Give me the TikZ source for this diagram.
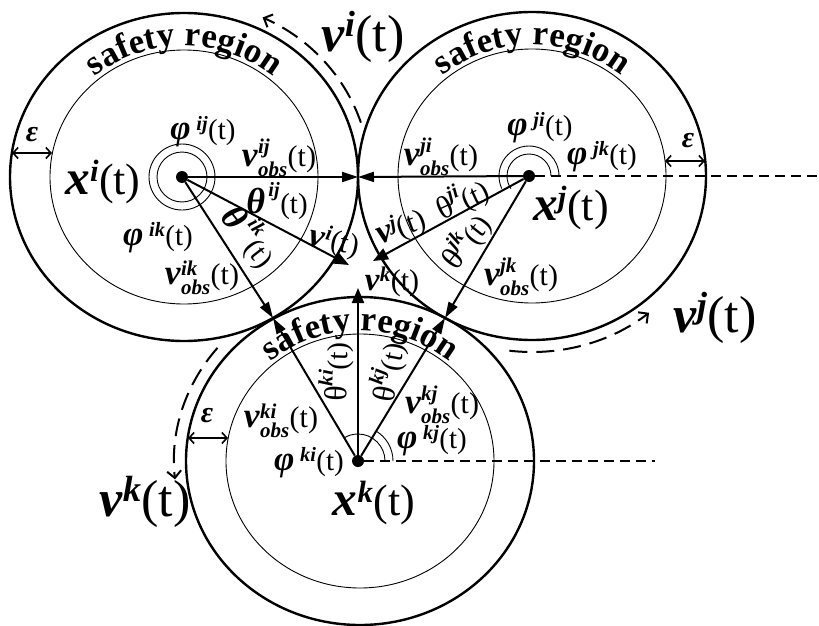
\documentclass[tikz,border=0pt]{standalone}
\usepackage{fontspec}
\setmainfont{Liberation Serif}
\usepackage{amsmath}
\usepackage{graphicx}
\usetikzlibrary{arrows.meta,decorations.text,calc}
\newcommand{\fsz}[1]{\fontsize{#1}{#1}\selectfont}
\newcommand{\bi}[1]{\textbf{\textit{#1}}}
\newcommand{\Mx}[2][1.2]{\scalebox{#1}{\bi{#2}}}
\newcommand{\sfregion}{\fontsize{35}{35}\selectfont\bfseries}
\newcommand{\supT}[2]{$\text{#1}^{\text{#2}}\text{(t)}$}
\newcommand{\obsT}[1]{$\text{\Mx[1.18]{v}}^{\text{\bi{#1}}}_{\text{\bi{obs}}}\text{(t)}$}
\begin{document}
\begin{tikzpicture}[x=1pt,y=1pt,
  outer/.style={line width=2.4pt},
  inner/.style={line width=0.9pt},
  vec/.style={line width=2pt,-{Triangle[length=16pt,width=10pt]}},
  vvec/.style={line width=2pt,-{Triangle[length=15pt,width=12pt]}},
  dotn/.style={circle,fill,inner sep=0pt,minimum size=12pt},
  eps/.style={line width=1.6pt,{Straight Barb[length=5pt,width=11pt]}-{Straight Barb[length=5pt,width=11pt]}},
  darc/.style={line width=2pt,dash pattern=on 18pt off 9pt,-{Straight Barb[length=7pt,width=14pt]}},
  hdash/.style={line width=1.2pt,dash pattern=on 10pt off 6pt},
  ang/.style={line width=0.9pt},
  lab/.style={inner sep=0pt,outer sep=0pt},
  big/.style={lab,font=\fsz{52}},
  xbig/.style={lab,font=\fsz{44}},
  mid/.style={lab,font=\fsz{29}},
  obs/.style={lab,font=\fsz{30}},
  epsl/.style={lab,font=\fsz{30}},
  sreg/.style={decorate,decoration={text along path,text align=center,text={|\sfregion|safety region}}}
]
\useasboundingbox (0,0) rectangle (819,-626);

% centres
\coordinate (Ci) at (184,-177);
\coordinate (Cj) at (532,-176);
\coordinate (Ck) at (360,-461);
% contact points and tips
\coordinate (Pij) at (358,-177);
\coordinate (Pik) at (273,-318);
\coordinate (Pjk) at (445,-318);
\coordinate (Vi) at (349,-265);
\coordinate (Vj) at (373,-261);
\coordinate (Vk) at (358,-288);
\coordinate (Ej) at (819,-176);
\coordinate (Ek) at (655,-461);

% ellipses
\draw[outer] (Ci) ellipse [x radius=174pt, y radius=164pt];
\draw[inner] (Ci) ellipse [x radius=134pt, y radius=127pt];
\draw[outer] (Cj) ellipse [x radius=174pt, y radius=164pt];
\draw[inner] (Cj) ellipse [x radius=134pt, y radius=127pt];
\draw[outer] (Ck) ellipse [x radius=174pt, y radius=164pt];
\draw[inner] (Ck) ellipse [x radius=134pt, y radius=127pt];

% safety region texts
\path[sreg] ($(Ci)+(160:139pt and 131pt)$) arc[start angle=160,end angle=20,x radius=139pt,y radius=131pt];
\path[sreg] ($(Cj)+(160:139pt and 131pt)$) arc[start angle=160,end angle=20,x radius=139pt,y radius=131pt];
\path[sreg] ($(Ck)+(160:139pt and 130pt)$) arc[start angle=160,end angle=20,x radius=139pt,y radius=130pt];

% dots
\node[dotn] (di) at (182,-177) {};
\node[dotn] (dj) at (529,-176) {};
\node[dotn] (dk) at (358,-461) {};

% dashed reference lines
\draw[hdash] (dj) -- (Ej);
\draw[hdash] (dk) -- (Ek);

% angle markers
\draw[ang] (di.center) circle[radius=25pt];
\draw[ang] (di.center) circle[radius=33pt];
\draw[ang] ($(dj.center)+(22pt,0)$) arc[start angle=0,end angle=215,radius=22pt];
\draw[ang] ($(dj.center)+(30pt,0)$) arc[start angle=0,end angle=205,radius=30pt];
\draw[ang] ($(dk.center)+(27pt,0)$) arc[start angle=0,end angle=121,radius=27pt];
\draw[ang] ($(dk.center)+(35pt,0)$) arc[start angle=0,end angle=59,radius=35pt];

% vectors
\draw[vec] (di) -- (Pij);
\draw[vec] (dj) -- (Pij);
\draw[vec] (di) -- (Pik);
\draw[vec] (dk) -- (Pik);
\draw[vec] (dj) -- (Pjk);
\draw[vec] (dk) -- (Pjk);
\draw[vvec] (di) -- (Vi);
\draw[vvec] (dj) -- (Vj);
\draw[vvec] (dk) -- (Vk);

% epsilon arrows
\coordinate (ei1) at (12,-153); \coordinate (ei2) at (52,-153);
\coordinate (ej1) at (665,-161); \coordinate (ej2) at (705,-161);
\coordinate (ek1) at (188,-438); \coordinate (ek2) at (228,-438);
\draw[eps] (ei1) -- (ei2);
\draw[eps] (ej1) -- (ej2);
\draw[eps] (ek1) -- (ek2);
\node[epsl] (lei) at (32,-135) {\bi{ε}};
\node[epsl] (lej) at (688,-141) {\bi{ε}};
\node[epsl] (lek) at (207,-416) {\bi{ε}};

% motion dashed arcs
\draw[darc] ($(Ci)+(18:186pt and 176pt)$) arc[start angle=18,end angle=65,x radius=186pt,y radius=176pt];
\draw[darc] ($(Cj)+(-97:186pt and 176pt)$) arc[start angle=-97,end angle=-51,x radius=186pt,y radius=176pt];
\draw[darc] ($(Ck)+(140:186pt and 176pt)$) arc[start angle=140,end angle=186,x radius=186pt,y radius=176pt];

% big labels
\node[big] (lviB) at (363,-37) {\supT{\bi{v}}{\bi{i}}};
\node[big] (lvjB) at (715,-318) {\supT{\bi{v}}{\bi{j}}};
\node[big] (lvkB) at (145,-502) {\supT{\bi{v}}{\bi{k}}};
\node[xbig] (lxi) at (103,-182) {\supT{\Mx[1.12]{x}}{\bi{i}}};
\node[xbig] (lxj) at (571,-208) {\supT{\Mx[1.12]{x}}{\bi{j}}};
\node[xbig] (lxk) at (374,-503) {\supT{\Mx[1.12]{x}}{\bi{k}}};

% circle i labels
\node[mid] (lphiij) at (203,-132) {\supT{\Mx{φ}}{\;\bi{ij}}};
\node[obs] (lvoij) at (279,-158) {\obsT{ij}};
\node[mid] (lthij) at (277,-201) {\supT{\Mx[1.25]{θ}}{\,\bi{ij}}};
\node[mid] (lphiik) at (158,-238) {\supT{\Mx{φ}}{\;\bi{ik}}};
\node[mid,rotate=-52] (lthik) at (250,-236) {\supT{\Mx[1.25]{θ}}{\,\bi{ik}}};
\node[obs] (lvoik) at (202,-278) {\obsT{ik}};
\node[obs,rotate=-12] (lvi) at (334,-242) {\supT{\Mx[1.15]{v}}{\bi{i}}};

% circle j labels
\node[mid] (lphiji) at (540,-128) {\supT{\Mx{φ}}{\;\bi{ji}}};
\node[mid] (lphijk) at (602,-157) {\supT{\Mx{φ}}{\;\bi{jk}}};
\node[obs] (lvoji) at (441,-157) {\obsT{ji}};
\node[mid,rotate=25] (lthji) at (462,-199) {\supT{\scalebox{1.1}{θ}}{\bi{ji}}};
\node[mid,rotate=52] (lthjk) at (466,-241) {\supT{\scalebox{1.1}{θ}}{\bi{jk}}};
\node[obs] (lvojk) at (521,-277) {\obsT{jk}};
\node[obs,rotate=20] (lvj) at (401,-228) {\supT{\Mx[1.15]{v}}{\bi{j}}};

% circle k labels
\node[mid] (lphiki) at (309,-463) {\supT{\Mx{φ}}{\;\bi{ki}}};
\node[mid] (lphikj) at (432,-441) {\supT{\Mx{φ}}{\;\bi{kj}}};
\node[obs] (lvoki) at (281,-421) {\obsT{ki}};
\node[obs] (lvokj) at (442,-405) {\obsT{kj}};
\node[mid,rotate=88] (lthki) at (336,-372) {\supT{\scalebox{1.1}{θ}}{\bi{ki}}};
\node[mid,rotate=79] (lthkj) at (388,-372) {\supT{\scalebox{1.1}{θ}}{\bi{kj}}};
\node[obs] (lvk) at (392,-282) {\supT{\Mx[1.1]{v}}{\bi{k}}};
\end{tikzpicture}
\end{document}
